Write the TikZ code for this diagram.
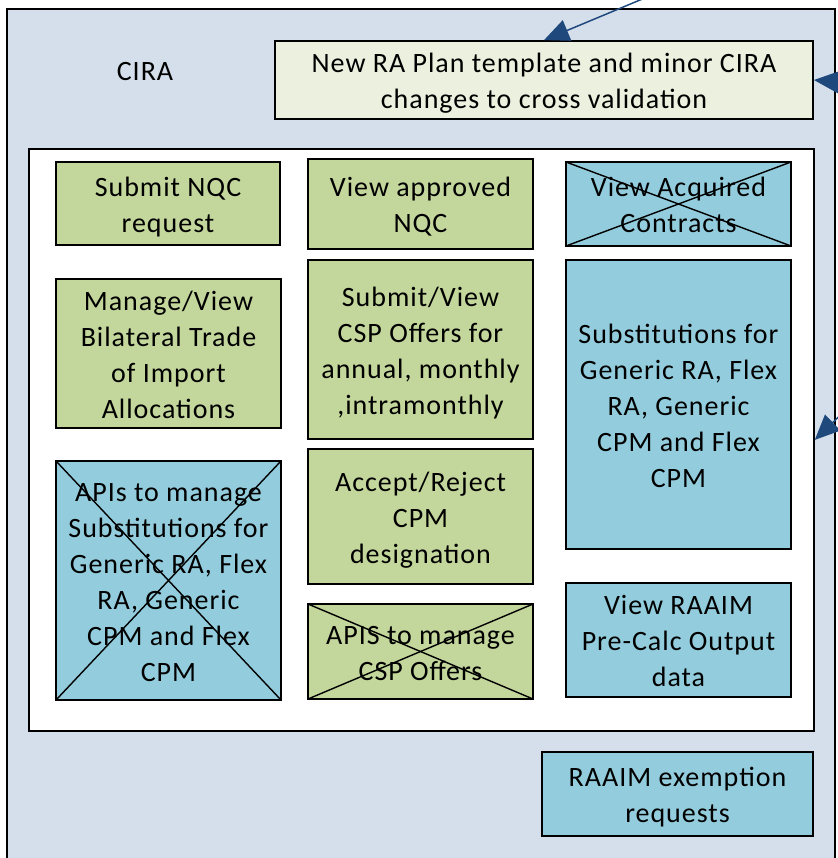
\documentclass[tikz,border=0pt]{standalone}
\usepackage{fontspec}
\setmainfont{Carlito}[LetterSpace=3.5]
\usetikzlibrary{arrows.meta}
\definecolor{outerfill}{RGB}{213,223,235}
\definecolor{greenfill}{RGB}{195,214,155}
\definecolor{bluefill}{RGB}{147,205,221}
\definecolor{planfill}{RGB}{235,241,222}
\definecolor{arrowblue}{RGB}{31,73,125}
\newcommand\boxtxt[1]{\raisebox{-3.5pt}[\height][\depth]{\begin{tabular}{@{}c@{}}#1\end{tabular}}}
\begin{document}
\begin{tikzpicture}[x=1pt,y=-1pt,
  every node/.style={font=\fontsize{28}{36}\selectfont, align=center, inner sep=0pt},
  box/.style={draw=black, line width=1.8pt, rectangle},
  gbox/.style={box, fill=greenfill},
  bbox/.style={box, fill=bluefill},
  crossed/.style={path picture={
      \draw[line width=1.4pt] (path picture bounding box.north west) -- (path picture bounding box.south east);
      \draw[line width=1.4pt] (path picture bounding box.south west) -- (path picture bounding box.north east);}},
  arr/.style={draw=arrowblue, line width=1.5pt, -{Triangle[length=25pt,width=22pt]}, arrowblue}
]
\useasboundingbox (0,0) rectangle (837,858);
% outer CIRA container
\node[box, fill=outerfill, minimum width=828pt, minimum height=870pt, anchor=north west] (outer) at (6,8) {};
\node (cira) at (145,72) {CIRA};
% plan box
\node[box, fill=planfill, minimum width=538pt, minimum height=78pt] (plan) at (544,80)
  {\boxtxt{New RA Plan template and minor CIRA\\changes to cross validation}};
% inner white container
\node[box, fill=white, minimum width=785pt, minimum height=582pt, anchor=north west] (inner) at (28,148) {};
% column 1
\node[gbox, minimum width=224pt, minimum height=83pt] (nqc) at (168,203.5) {\boxtxt{Submit NQC\\request}};
\node[gbox, minimum width=225pt, minimum height=149pt] (bilat) at (168.5,353.5) {\boxtxt{Manage/View\\Bilateral Trade\\of Import\\Allocations}};
\node[bbox, crossed, minimum width=225pt, minimum height=239pt] (apisub) at (168.5,580.5) {\boxtxt{APIs to manage\\Substitutions for\\Generic RA, Flex\\RA, Generic\\CPM and Flex\\CPM}};
% column 2
\node[gbox, minimum width=225pt, minimum height=90pt] (vnqc) at (420.5,204) {\boxtxt{View approved\\NQC}};
\node[gbox, minimum width=225pt, minimum height=179pt] (csp) at (420.5,349.5) {\boxtxt{Submit/View\\CSP Offers for\\annual, monthly\\,intramonthly}};
\node[gbox, minimum width=225pt, minimum height=135pt] (cpm) at (420.5,516.5) {\boxtxt{Accept/Reject\\CPM\\designation}};
\node[gbox, crossed, minimum width=225pt, minimum height=95pt] (apicsp) at (420.5,651.5) {\boxtxt{APIS to manage\\CSP Offers}};
% column 3
\node[bbox, crossed, minimum width=225pt, minimum height=84pt] (acq) at (678.5,204) {\boxtxt{View Acquired\\Contracts}};
\node[bbox, minimum width=225pt, minimum height=289pt] (subst) at (678.5,404.5) {\boxtxt{Substitutions for\\Generic RA, Flex\\RA, Generic\\CPM and Flex\\CPM}};
\node[bbox, minimum width=225pt, minimum height=114pt] (raaim) at (678.5,640) {\boxtxt{View RAAIM\\Pre-Calc Output\\data}};
% exemption
\node[bbox, minimum width=271pt, minimum height=84pt] (exempt) at (677.5,794) {\boxtxt{RAAIM exemption\\requests}};
% arrows from outside
\coordinate (src1) at (652,-5);
\coordinate (src2) at (860,84);
\coordinate (src3) at (855,401);
\draw[arr] (src1) -- (plan.north);
\draw[arr] (src2) -- (plan.east);
\draw[arr] (src3) -- (inner.east);
\end{tikzpicture}
\end{document}
